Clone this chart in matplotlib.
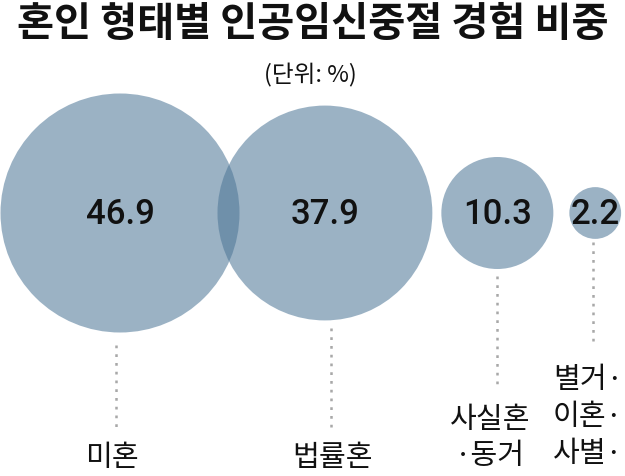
import numpy as np
import matplotlib
matplotlib.use("Agg")
import matplotlib.pyplot as plt
from matplotlib.patches import Circle

plt.rcParams['font.family'] = ['Noto Sans CJK KR', 'DejaVu Sans']

TITLE = "혼인 형태별 인공임신중절 경험 비중"
UNIT = "(단위: %)"
categories = ["미혼", "법률혼", "사실혼\n·동거", "별거·\n이혼·\n사별·"]
values = [46.9, 37.9, 10.3, 2.2]

# layout (pixel space, y downwards)
W, H = 625, 477
CY = 214
SCALE = 119.5 / np.sqrt(46.9)          # radius per sqrt(value) -> area proportional
gaps = [-22, 9, 16]                      # edge-to-edge gap between neighbours
FILL = "#4d7697"
ALPHA = 0.56

radii = [SCALE * np.sqrt(v) for v in values]
centers = [radii[0] + 0.5]
for i, g in enumerate(gaps):
    centers.append(centers[-1] + radii[i] + g + radii[i + 1])

fig = plt.figure(figsize=(W / 100, H / 100), dpi=100)
ax = fig.add_axes([0, 0, 1, 1])
ax.set_xlim(0, W)
ax.set_ylim(H, 0)
ax.set_aspect("equal")
ax.axis("off")

for cx, r, v in zip(centers, radii, values):
    ax.add_patch(Circle((cx, CY), r, facecolor=FILL, edgecolor="none", alpha=ALPHA, zorder=1))
    ax.text(cx, CY + 1, f"{v}", ha="center", va="center", fontsize=25, color="#111111",
            fontweight="medium", family=["Roboto", "DejaVu Sans"], zorder=3)

# leader lines + labels
line_x_off = [-4, 6, 0, -2]
line_gap = [12, 8, 7, 3]
line_end = [430, 430, 385, 343]
label_y = [458, 458, 438, 417]
label_x = [112, 333, 490, 623]
label_ha = ["center", "center", "center", "right"]
for i, (cx, r, lab) in enumerate(zip(centers, radii, categories)):
    x = cx + line_x_off[i]
    ax.plot([x, x], [CY + r + line_gap[i], line_end[i]], color="#a8a8a8", lw=1.8,
            linestyle=(0, (1.1, 2.4)), solid_capstyle="butt", zorder=2)
    ax.text(label_x[i], label_y[i], lab, ha=label_ha[i], va="center", ma="center",
            fontsize=21, color="#111111", linespacing=1.3)

ax.text(W / 2, 25, TITLE, ha="center", va="center", fontsize=29,
        fontweight="black", color="#111111")
ax.text(W / 2 - 2, 75, UNIT, ha="center", va="center", fontsize=17, color="#111111")

fig.savefig("out.png", dpi=100, facecolor="white")
